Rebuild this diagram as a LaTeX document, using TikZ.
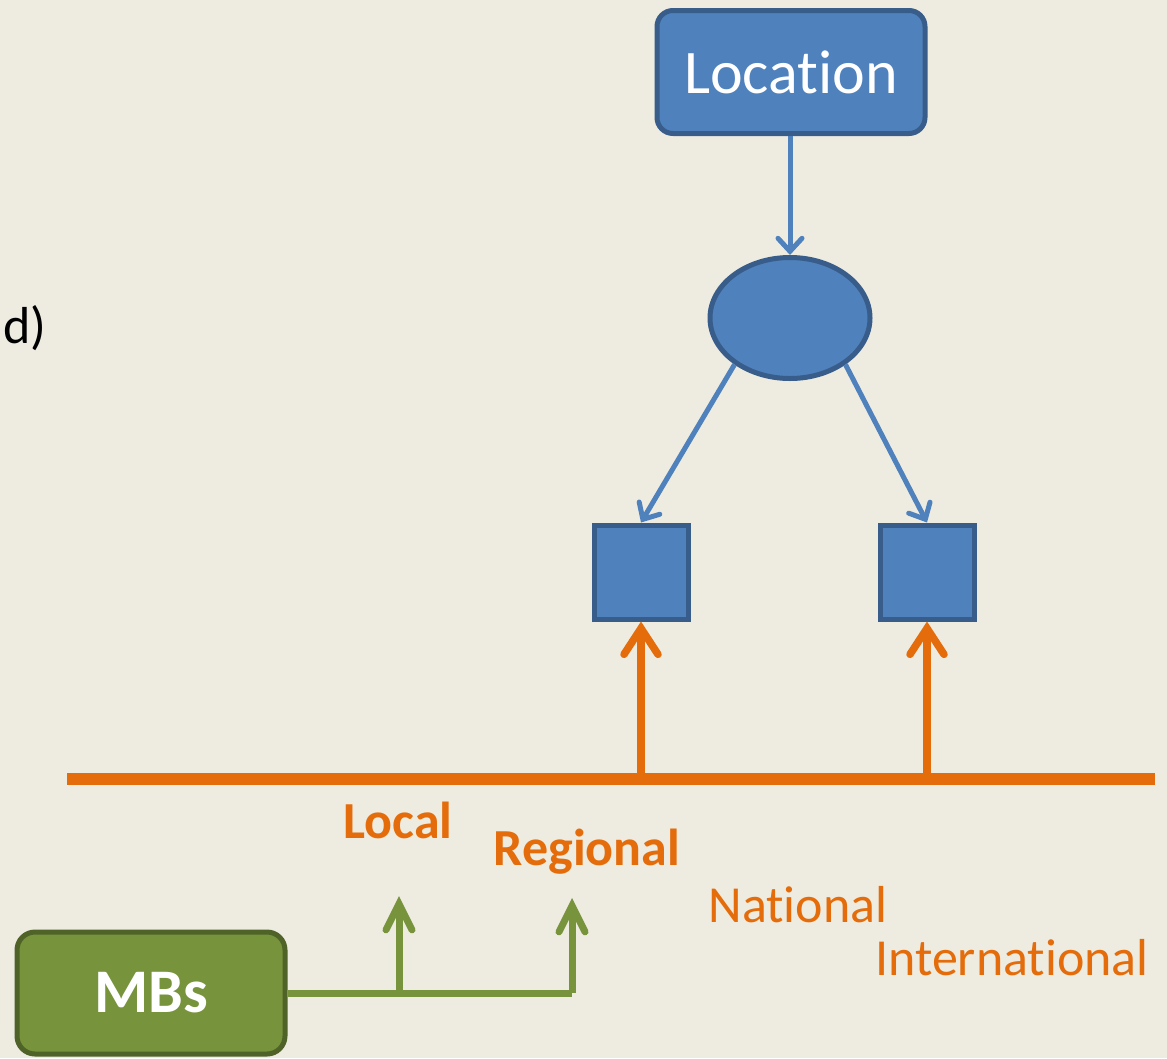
\documentclass[tikz,border=0pt]{standalone}
\usepackage{fontspec}
\setmainfont{Carlito}
\usepackage{tikz}
\usetikzlibrary{arrows.meta,positioning,shapes.geometric}
\definecolor{bgpaper}{HTML}{EEECE1}
\definecolor{blfill}{HTML}{4F81BD}
\definecolor{bldraw}{HTML}{385D8A}
\definecolor{orline}{HTML}{E46C0A}
\definecolor{grfill}{HTML}{77933C}
\definecolor{grdraw}{HTML}{4F6228}
\tikzset{
  bluebox/.style={rectangle,draw=bldraw,fill=blfill,line width=5pt},
  greenbox/.style={rectangle,rounded corners=18pt,draw=grdraw,fill=grfill,
    line width=5pt,minimum width=268pt,minimum height=122pt},
  bluearrow/.style={-{Straight Barb[length=13pt,width=24pt,line width=5pt,line cap=round]},
    blfill,line width=5pt},
  orangearrow/.style={-{Straight Barb[length=26pt,width=34pt,line width=7.5pt,line cap=round]},
    orline,line width=7.5pt},
  greenarrow/.style={-{Straight Barb[length=26pt,width=26pt,line width=7pt,line cap=round]},
    grfill,line width=7pt},
  level/.style={orline,anchor=center,font=\fontsize{52}{60}\selectfont},
  every node/.style={inner sep=0pt}
}
% keep t and i apart (no ligature)
\newcommand{\nolig}{\kern0pt}
\begin{document}
\begin{tikzpicture}[x=1pt,y=-1pt]
  \fill[bgpaper] (0,0) rectangle (1167,1058);
  \useasboundingbox (0,0) rectangle (1167,1058);
  % text cut off at the left edge
  \node[anchor=west,font=\fontsize{52}{60}\selectfont] (cut) at (3,328) {d)};
  % location tree
  \node[bluebox,rounded corners=16pt,minimum width=268pt,minimum height=123pt,
    text=white,font=\fontsize{62}{70}\selectfont] (loc) at (791,72) {Locat\nolig ion};
  \node[bluebox,ellipse,minimum width=160pt,minimum height=121pt] (hub) at (790,318) {};
  \node[bluebox,minimum width=94pt,minimum height=94pt] (boxL) at (641,572) {};
  \node[bluebox,minimum width=94pt,minimum height=94pt] (boxR) at (927,572) {};
  \draw[bluearrow] (loc.south -| hub.north) -- (hub.north);
  \draw[bluearrow] (hub.-140) -- (boxL.north);
  \draw[bluearrow] (hub.-40) -- (boxR.north);
  % scale line
  \coordinate (lineW) at (67,779);
  \coordinate (lineE) at (1155,779);
  \draw[orline,line width=12pt] (lineW) -- (lineE);
  \draw[orangearrow] (boxL |- lineW) -- (boxL.south);
  \draw[orangearrow] (boxR |- lineW) -- (boxR.south);
  \node[level,font=\bfseries\fontsize{52}{60}\selectfont] (local) at (398,820) {Local};
  \node[level,font=\bfseries\fontsize{52}{60}\selectfont] (regional) at (587,852) {Regional};
  \node[level] (national) at (798,905) {Nat\nolig ional};
  \node[level] (intl) at (1012,958) {Internat\nolig ional};
  % MBs
  \node[greenbox,text=white,font=\bfseries\fontsize{62}{70}\selectfont] (mbs) at (151,993) {MBs};
  \coordinate (fork) at (572,993);
  \coordinate (upL) at (399,896);
  \coordinate (upR) at (572,898);
  \draw[grfill,line width=7pt] (mbs.east) -- (fork);
  \draw[greenarrow] (upL |- fork) -- (upL);
  \draw[greenarrow] (fork) -- (upR);
\end{tikzpicture}
\end{document}
